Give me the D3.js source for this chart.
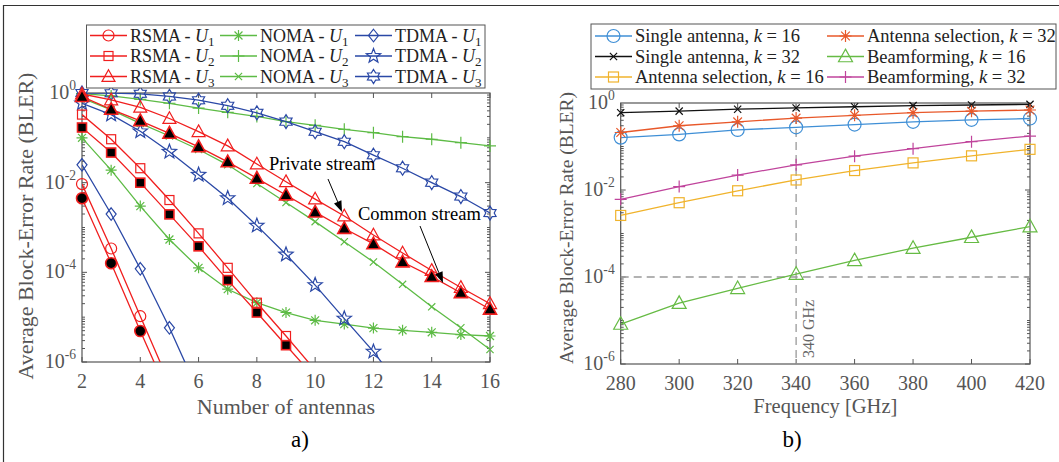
<!DOCTYPE html>
<html>
<head>
<meta charset="utf-8">
<script src="https://cdn.jsdelivr.net/npm/d3@7/dist/d3.min.js"></script>
<style>
  body { margin: 0; background: #fff; }
  svg text { font-family: "Liberation Serif", "Times New Roman", serif; }
</style>
</head>
<body>
<svg id="fig" width="1059" height="462"></svg>
<script>
// ---- panel a) : BLER vs number of antennas ----
const antennas = [2, 3, 4, 5, 6, 7, 8, 9, 10, 11, 12, 13, 14, 15, 16];
const rsmaU1 = [9.3e-3, 3.4e-4, 1.05e-5, 3.3e-7];
const rsmaU1Common = [4.5e-3, 1.6e-4, 4.9e-6, 1.7e-7];
const rsmaU2 = [0.33, 0.093, 0.021, 4.1e-3, 7.4e-4, 1.26e-4, 2.1e-5, 3.8e-6, 6.6e-7];
const rsmaU2Common = [0.17, 0.047, 0.01, 1.96e-3, 3.8e-4, 6.7e-5, 1.27e-5, 2.37e-6, 4.4e-7];
const rsmaU3 = [0.95, 0.70, 0.48, 0.27, 0.137, 0.066, 0.026, 0.0105, 4.3e-3, 1.8e-3, 6.8e-4, 2.7e-4, 1.1e-4, 4.6e-5, 2.0e-5];
const rsmaU3Common = [0.83, 0.43, 0.24, 0.126, 0.063, 0.029, 0.0125, 5.3e-3, 2.2e-3, 9.5e-4, 4.3e-4, 1.7e-4, 8e-5, 3.5e-5, 1.5e-5];
const nomaU1 = [0.1, 0.019, 3e-3, 5.4e-4, 1.26e-4, 4.2e-5, 2.1e-5, 1.27e-5, 8.5e-6, 7e-6, 5.7e-6, 5.1e-6, 4.6e-6, 4.1e-6, 3.8e-6];
const nomaU2 = [0.97, 0.86, 0.72, 0.59, 0.46, 0.37, 0.30, 0.23, 0.19, 0.155, 0.13, 0.106, 0.093, 0.078, 0.066];
const nomaU3 = [0.77, 0.42, 0.21, 0.11, 0.055, 0.025, 9.6e-3, 3.6e-3, 1.35e-3, 4.8e-4, 1.7e-4, 5.4e-5, 1.7e-5, 5.8e-6, 1.9e-6];
const tdmaU1 = [0.025, 2e-3, 1.2e-4, 5.8e-6, 2.1e-7];
const tdmaU2 = [0.59, 0.33, 0.14, 0.049, 0.015, 4.5e-3, 1.1e-3, 2.5e-4, 5.2e-5, 9.3e-6, 1.7e-6, 2.4e-7];
const tdmaU3 = [1.0, 0.99, 0.96, 0.84, 0.69, 0.52, 0.36, 0.23, 0.137, 0.082, 0.041, 0.021, 0.01, 4.9e-3, 2.1e-3];
const antennaTicks = [2, 4, 6, 8, 10, 12, 14, 16];

// ---- panel b) : BLER vs frequency ----
const freqs = [280, 300, 320, 340, 360, 380, 400, 420];
const single16 = [0.16, 0.19, 0.24, 0.276, 0.32, 0.37, 0.41, 0.44];
const single32 = [0.60, 0.65, 0.72, 0.77, 0.82, 0.87, 0.90, 0.93];
const select16 = [2.6e-3, 5.1e-3, 9.6e-3, 0.017, 0.028, 0.042, 0.061, 0.086];
const select32 = [0.21, 0.30, 0.37, 0.45, 0.52, 0.60, 0.65, 0.69];
const beam16 = [8.3e-6, 2.5e-5, 5.5e-5, 1.17e-4, 2.4e-4, 4.6e-4, 8.2e-4, 1.44e-3];
const beam32 = [6.1e-3, 0.012, 0.022, 0.038, 0.06, 0.089, 0.129, 0.174];
const freqTicks = [280, 300, 320, 340, 360, 380, 400, 420];
const refFreq = 340;
const refBler = 1e-4;

const yMajor = [1e-6, 1e-4, 1e-2, 1];
const yLabelExp = ['-6', '-4', '-2', '0'];

const RED = '#f01e1e', GREEN = '#5dbb45', BLUE = '#2a48a6';
const C1 = '#3f8fd6', C2 = '#e8582a', C3 = '#f0b32c', C5 = '#66bb44', C4 = '#c0449c';

const svg = d3.select('#fig');
svg.append('path').attr('d', 'M3.5,462V5.5H1059').attr('fill', 'none').attr('stroke', '#333').attr('stroke-width', 1.2);

function star(n, R, r) {
  const pts = [];
  for (let i = 0; i < 2 * n; i++) {
    const a = -Math.PI / 2 + i * Math.PI / n;
    const rr = i % 2 ? r : R;
    pts.push([rr * Math.cos(a), rr * Math.sin(a)]);
  }
  return 'M' + pts.map(p => p.join(',')).join('L') + 'Z';
}

function marker(g, type, s, color, fill, sw) {
  const m = g.append('g').attr('stroke', color).attr('stroke-width', sw || 1.2).attr('fill', fill || 'none');
  if (type === 'circle') m.append('circle').attr('r', s);
  else if (type === 'square') m.append('rect').attr('x', -s).attr('y', -s).attr('width', 2 * s).attr('height', 2 * s);
  else if (type === 'triangle') m.append('path').attr('d', `M0,${-s * 1.05}L${s},${s * 0.75}L${-s},${s * 0.75}Z`);
  else if (type === 'diamond') m.append('path').attr('d', `M0,${-s * 1.25}L${s},0L0,${s * 1.25}L${-s},0Z`);
  else if (type === 'pentagram') m.append('path').attr('d', star(5, s, s * 0.42));
  else if (type === 'hexagram') m.append('path').attr('d', star(6, s, s * 0.6));
  else {
    let d = '';
    if (type === 'plus' || type === 'asterisk') d += `M${-s},0H${s}M0,${-s}V${s}`;
    const c = type === 'asterisk' ? s * 0.72 : s * 0.8;
    if (type === 'cross' || type === 'asterisk') d += `M${-c},${-c}L${c},${c}M${-c},${c}L${c},${-c}`;
    m.append('path').attr('d', d);
  }
  return m;
}

function panel(cfg) {
  const x = d3.scaleLinear().domain(cfg.xDomain).range([cfg.x0, cfg.x1]);
  const y = d3.scaleLog().domain([1e-6, 1]).range([cfg.y1, cfg.y0]);
  const g = svg.append('g');
  const clipId = 'clip' + cfg.id;
  svg.append('clipPath').attr('id', clipId).append('rect')
    .attr('x', cfg.x0).attr('y', cfg.y0).attr('width', cfg.x1 - cfg.x0).attr('height', cfg.y1 - cfg.y0);

  const axisColor = '#555';
  // ticks
  const tk = g.append('g').attr('stroke', axisColor).attr('stroke-width', 1);
  cfg.xTicks.forEach(v => {
    tk.append('line').attr('x1', x(v)).attr('x2', x(v)).attr('y1', cfg.y1).attr('y2', cfg.y1 - 5);
    tk.append('line').attr('x1', x(v)).attr('x2', x(v)).attr('y1', cfg.y0).attr('y2', cfg.y0 + 5);
  });
  for (let e = -6; e < 0; e++) {
    for (let k = 1; k < 10; k++) {
      const v = k * Math.pow(10, e);
      const len = (k === 1 && e % 2 === 0) ? 5 : 3;
      tk.append('line').attr('x1', cfg.x0).attr('x2', cfg.x0 + len).attr('y1', y(v)).attr('y2', y(v));
      tk.append('line').attr('x1', cfg.x1).attr('x2', cfg.x1 - len).attr('y1', y(v)).attr('y2', y(v));
    }
  }
  g.append('rect').attr('x', cfg.x0).attr('y', cfg.y0).attr('width', cfg.x1 - cfg.x0).attr('height', cfg.y1 - cfg.y0)
    .attr('fill', 'none').attr('stroke', axisColor).attr('stroke-width', 1.2);

  // tick labels
  cfg.xTicks.forEach(v => {
    g.append('text').attr('x', x(v)).attr('y', cfg.y1 + 26).attr('text-anchor', 'middle')
      .attr('font-size', cfg.tickFont).attr('fill', axisColor).text(v);
  });
  yMajor.forEach((v, i) => {
    const t = g.append('text').attr('x', cfg.x0 - 6).attr('y', y(v) + 6).attr('text-anchor', 'end')
      .attr('font-size', cfg.tickFont).attr('fill', axisColor);
    t.append('tspan').text('10');
    t.append('tspan').attr('dy', -9).attr('font-size', cfg.tickFont * 0.68).text(yLabelExp[i]);
  });

  // axis titles
  g.append('text').attr('x', (cfg.x0 + cfg.x1) / 2).attr('y', cfg.xLabelY).attr('text-anchor', 'middle')
    .attr('font-size', cfg.xLabelFont).attr('fill', axisColor).text(cfg.xLabel);
  g.append('text').attr('transform', `translate(${cfg.yLabelX},${cfg.yLabelY}) rotate(-90)`).attr('text-anchor', 'middle')
    .attr('font-size', cfg.yLabelFont).attr('fill', axisColor).text('Average Block-Error Rate (BLER)');
  g.append('text').attr('x', cfg.capX).attr('y', 447).attr('text-anchor', 'middle')
    .attr('font-size', 23).attr('fill', '#000').text(cfg.caption);

  return { x, y, g, clipId };
}

function drawSeries(p, xs, s) {
  const pts = s.values.map((v, i) => [xs[i], v]);
  const line = d3.line().x(d => p.x(d[0])).y(d => p.y(d[1]));
  p.g.append('path').attr('d', line(pts)).attr('fill', 'none').attr('stroke', s.color)
    .attr('stroke-width', s.lw || 1.3).attr('clip-path', `url(#${p.clipId})`);
  pts.filter(d => d[1] >= 1e-6).forEach(d => {
    const m = marker(p.g, s.marker, s.size, s.color, s.fill, s.msw);
    m.attr('transform', `translate(${p.x(d[0])},${p.y(d[1])})`);
  });
}

// ----- panel a -----
const pa = panel({
  id: 'a', x0: 82, x1: 490, y0: 93, y1: 362, xDomain: [2, 16], xTicks: antennaTicks,
  tickFont: 20, xLabel: 'Number of antennas', xLabelY: 414, xLabelFont: 22,
  yLabelX: 33, yLabelY: 226, yLabelFont: 22, caption: 'a)', capX: 300
});

const seriesA = [
  { values: nomaU2, color: GREEN, marker: 'plus', size: 6, name: 'NOMA', u: '2' },
  { values: nomaU3, color: GREEN, marker: 'cross', size: 4.5, name: 'NOMA', u: '3' },
  { values: nomaU1, color: GREEN, marker: 'asterisk', size: 5.5, name: 'NOMA', u: '1' },
  { values: tdmaU1, color: BLUE, marker: 'diamond', size: 5, name: 'TDMA', u: '1' },
  { values: tdmaU2, color: BLUE, marker: 'pentagram', size: 7.5, name: 'TDMA', u: '2' },
  { values: tdmaU3, color: BLUE, marker: 'hexagram', size: 7, name: 'TDMA', u: '3' },
  { values: rsmaU1, color: RED, marker: 'circle', size: 5.5, name: 'RSMA', u: '1' },
  { values: rsmaU2, color: RED, marker: 'square', size: 4.5, name: 'RSMA', u: '2' },
  { values: rsmaU3, color: RED, marker: 'triangle', size: 6.5, name: 'RSMA', u: '3' },
  { values: rsmaU1Common, color: RED, marker: 'circle', size: 5.5, fill: '#000', msw: 1.6 },
  { values: rsmaU2Common, color: RED, marker: 'square', size: 4.5, fill: '#000', msw: 1.6 },
  { values: rsmaU3Common, color: RED, marker: 'triangle', size: 6.5, fill: '#000', msw: 1.6 }
];
seriesA.forEach(s => drawSeries(pa, antennas, s));

function arrow(x1, y1, x2, y2) {
  const a = Math.atan2(y2 - y1, x2 - x1), L = 11, W = 4;
  const bx = x2 - L * Math.cos(a), by = y2 - L * Math.sin(a);
  svg.append('line').attr('x1', x1).attr('y1', y1).attr('x2', bx).attr('y2', by).attr('stroke', '#000').attr('stroke-width', 1);
  svg.append('path').attr('fill', '#000')
    .attr('d', `M${x2},${y2}L${bx - W * Math.sin(a)},${by + W * Math.cos(a)}L${bx + W * Math.sin(a)},${by - W * Math.cos(a)}Z`);
}
svg.append('text').attr('x', 269).attr('y', 170).attr('font-size', 18.5).attr('fill', '#000').text('Private stream');
arrow(328, 179, 342, 212);
svg.append('text').attr('x', 358).attr('y', 220).attr('font-size', 18.5).attr('fill', '#000').text('Common stream');
arrow(420, 226, 443, 283);

// legend a
const legA = svg.append('g');
legA.append('rect').attr('x', 86.5).attr('y', 25).attr('width', 398.5).attr('height', 63)
  .attr('fill', '#fff').attr('stroke', '#555').attr('stroke-width', 1);
const legAOrder = [6, 7, 8, 2, 0, 1, 3, 4, 5];
const colXA = [90, 220, 355];
const rowY = [35.5, 56, 76.5];
legAOrder.forEach((si, k) => {
  const s = seriesA[si], cx = colXA[Math.floor(k / 3)], cy = rowY[k % 3];
  legA.append('line').attr('x1', cx).attr('x2', cx + 37).attr('y1', cy).attr('y2', cy).attr('stroke', s.color).attr('stroke-width', 1.3);
  marker(legA, s.marker, s.size, s.color).attr('transform', `translate(${cx + 18.5},${cy})`);
  const t = legA.append('text').attr('x', cx + 40).attr('y', cy + 6).attr('font-size', 18).attr('fill', '#222');
  t.append('tspan').text(s.name + ' - ');
  t.append('tspan').attr('font-style', 'italic').text('U');
  t.append('tspan').attr('dy', 4).attr('font-size', 13).text(s.u);
});

// ----- panel b -----
const pb = panel({
  id: 'b', x0: 620.7, x1: 1030, y0: 103, y1: 364, xDomain: [280, 420], xTicks: freqTicks,
  tickFont: 20, xLabel: 'Frequency [GHz]', xLabelY: 413, xLabelFont: 20.5,
  yLabelX: 573, yLabelY: 228, yLabelFont: 19.5, caption: 'b)', capX: 792
});

// reference dashed lines
pb.g.append('line').attr('x1', pb.x(refFreq)).attr('x2', pb.x(refFreq)).attr('y1', pb.y(1)).attr('y2', pb.y(1e-6))
  .attr('stroke', '#999').attr('stroke-width', 1.3).attr('stroke-dasharray', '8,5');
pb.g.append('line').attr('x1', pb.x(280)).attr('x2', pb.x(420)).attr('y1', pb.y(refBler)).attr('y2', pb.y(refBler))
  .attr('stroke', '#999').attr('stroke-width', 1.3).attr('stroke-dasharray', '8,5');
pb.g.append('text').attr('transform', `translate(${pb.x(refFreq) + 18},358) rotate(-90)`)
  .attr('font-size', 16).attr('fill', '#666').text(refFreq + ' GHz');

const seriesB = [
  { values: single16, color: C1, marker: 'circle', size: 6.5, label: 'Single antenna, ', k: '16' },
  { values: single32, color: '#111', marker: 'cross', size: 4.5, label: 'Single antenna, ', k: '32' },
  { values: select16, color: C3, marker: 'square', size: 5, label: 'Antenna selection, ', k: '16' },
  { values: select32, color: C2, marker: 'asterisk', size: 6, label: 'Antenna selection, ', k: '32' },
  { values: beam16, color: C5, marker: 'triangle', size: 7, label: 'Beamforming, ', k: '16' },
  { values: beam32, color: C4, marker: 'plus', size: 6, label: 'Beamforming, ', k: '32' }
];
seriesB.forEach(s => drawSeries(pb, freqs, s));

const legB = svg.append('g');
legB.append('rect').attr('x', 591).attr('y', 24).attr('width', 465).attr('height', 65)
  .attr('fill', '#fff').attr('stroke', '#555').attr('stroke-width', 1);
const colXB = [595, 827];
const rowYB = [36, 56.5, 77];
seriesB.forEach((s, k) => {
  const cx = colXB[Math.floor(k / 3)], cy = rowYB[k % 3];
  legB.append('line').attr('x1', cx).attr('x2', cx + 37).attr('y1', cy).attr('y2', cy).attr('stroke', s.color).attr('stroke-width', 1.3);
  marker(legB, s.marker, s.size, s.color).attr('transform', `translate(${cx + 18.5},${cy})`);
  const t = legB.append('text').attr('x', cx + 40).attr('y', cy + 6).attr('font-size', 18.5).attr('fill', '#222');
  t.append('tspan').text(s.label);
  t.append('tspan').attr('font-style', 'italic').text('k');
  t.append('tspan').text(' = ' + s.k);
});
</script>
</body>
</html>
